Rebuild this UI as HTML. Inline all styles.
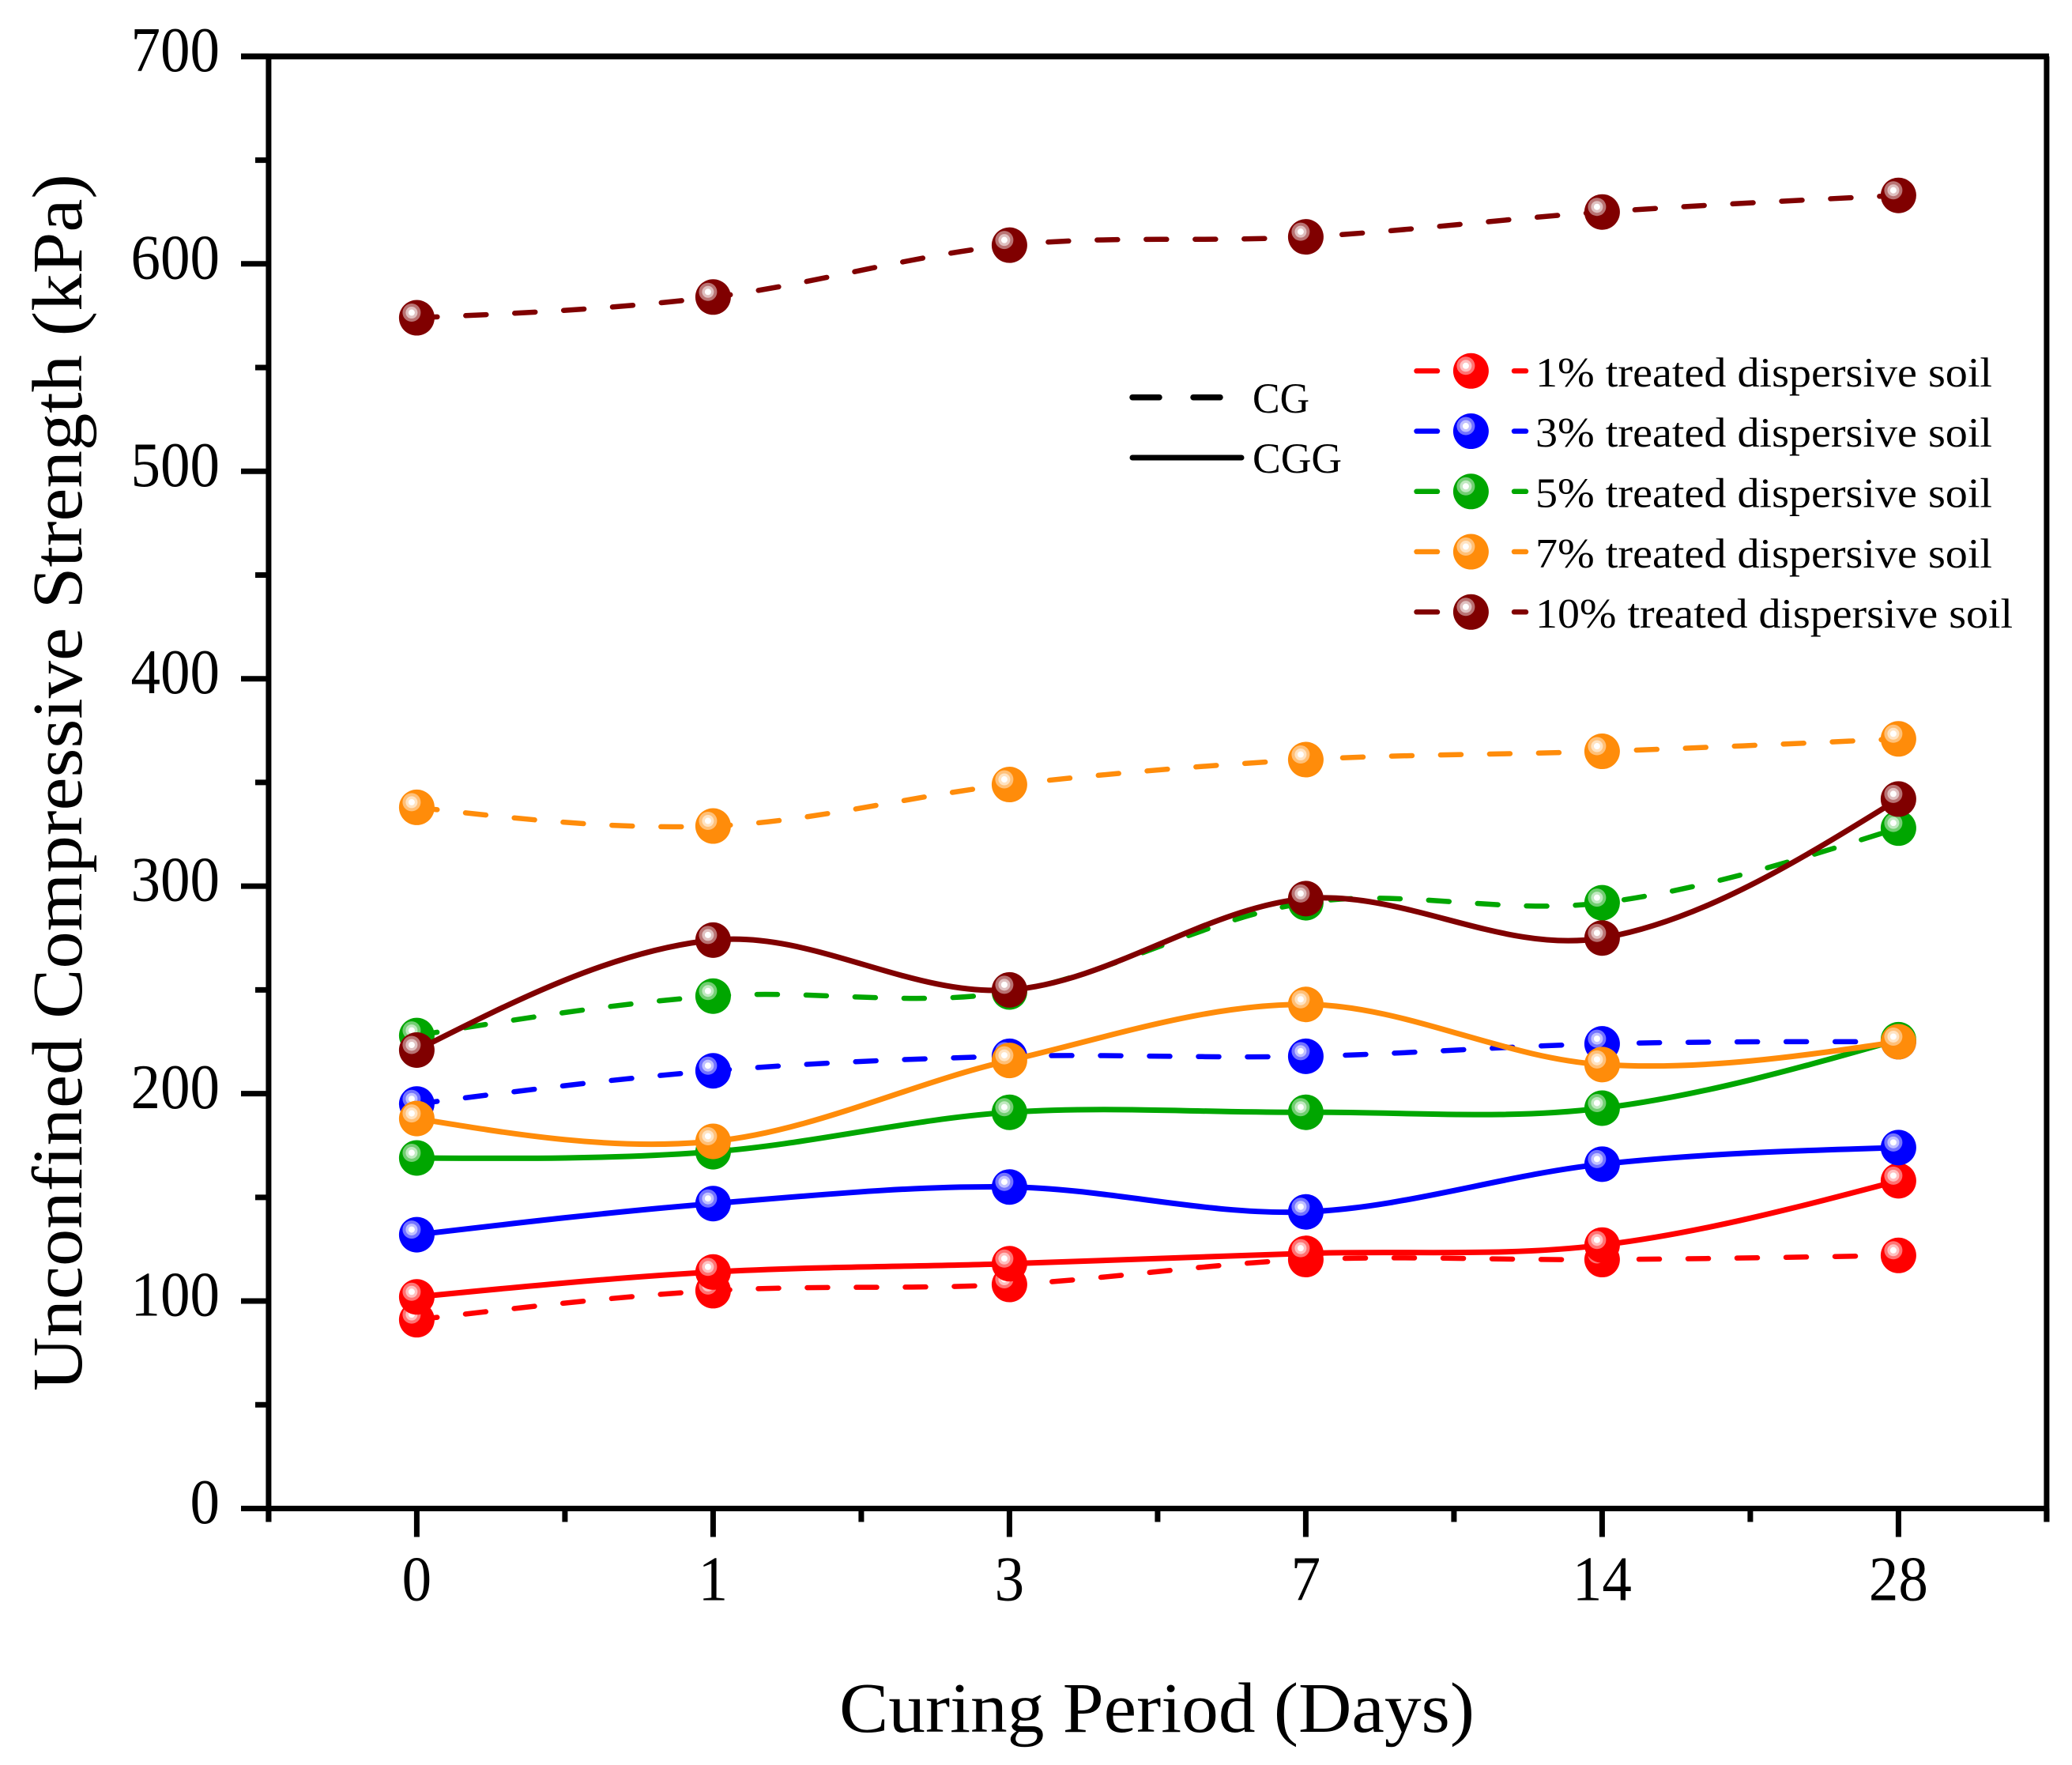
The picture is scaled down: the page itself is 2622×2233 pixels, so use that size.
<!DOCTYPE html>
<html lang="en">
<head>
<meta charset="utf-8">
<title>Unconfined Compressive Strength vs Curing Period</title>
<style>
html,body{margin:0;padding:0;background:#fff;}
svg{display:block;}
text{font-family:"Liberation Serif",serif;fill:#000;}
</style>
</head>
<body>
<svg id="chart" xmlns="http://www.w3.org/2000/svg" width="2622" height="2233" viewBox="0 0 2622 2233">
  <rect x="0" y="0" width="2622" height="2233" fill="#fff"/>
  <g id="axes"></g>
  <g id="series"></g>
  <text transform="translate(103,1760) rotate(-90)" font-size="90" textLength="1540" lengthAdjust="spacingAndGlyphs">Unconfined Compressive Strength (kPa)</text>
  <text x="1062" y="2191" font-size="90" textLength="804" lengthAdjust="spacingAndGlyphs">Curing Period (Days)</text>
  <g id="legend">
    <text x="1585" y="522" font-size="54" textLength="72" lengthAdjust="spacingAndGlyphs">CG</text>
    <text x="1585" y="598" font-size="54" textLength="113" lengthAdjust="spacingAndGlyphs">CGG</text>
    <text x="1943" y="489" font-size="53" textLength="578" lengthAdjust="spacingAndGlyphs">1% treated dispersive soil</text>
    <text x="1943" y="565" font-size="53" textLength="578" lengthAdjust="spacingAndGlyphs">3% treated dispersive soil</text>
    <text x="1943" y="641.5" font-size="53" textLength="578" lengthAdjust="spacingAndGlyphs">5% treated dispersive soil</text>
    <text x="1943" y="718" font-size="53" textLength="578" lengthAdjust="spacingAndGlyphs">7% treated dispersive soil</text>
    <text x="1943" y="794" font-size="53" textLength="604" lengthAdjust="spacingAndGlyphs">10% treated dispersive soil</text>
  </g>
</svg>
<script>
const categories = ["0", "1", "3", "7", "14", "28"];
const yTickLabels = [0, 100, 200, 300, 400, 500, 600, 700];
const yMinorTicks = [50, 150, 250, 350, 450, 550, 650];
const xMinorTicks = [-0.5, 0.5, 1.5, 2.5, 3.5, 4.5, 5.5];
const seriesNames = ["1pct", "3pct", "5pct", "7pct", "10pct"];
const seriesColors = ["#ff0000", "#0000ff", "#00a600", "#ff8c0a", "#800000"];

const cg1 = [91, 105, 108, 120, 120, 122];
const cg3 = [195, 211, 218, 218, 224, 225];
const cg5 = [228, 247, 249, 292, 292, 328];
const cg7 = [338, 329, 349, 361, 365, 371];
const cg10 = [574, 584, 609, 613, 625, 633];

const cgg1 = [102, 114, 118, 123, 127, 158];
const cgg3 = [132, 147, 155, 143, 166, 174];
const cgg5 = [169, 172, 191, 191, 193, 226];
const cgg7 = [188, 177, 216, 243, 214, 225];
const cgg10 = [221, 274, 250, 294, 275, 342];

const cgSeries = [cg1, cg3, cg5, cg7, cg10];
const cggSeries = [cgg1, cgg3, cgg5, cgg7, cgg10];

const SVGNS = "http://www.w3.org/2000/svg";
function xScale(i) { return 527.4 + i * 375; }
function yScale(v) { return 1908.5 - v * 2.6245; }

function mk(parent, tag, attrs, content) {
  const el = document.createElementNS(SVGNS, tag);
  for (const k in attrs) el.setAttribute(k, attrs[k]);
  if (content !== undefined) el.textContent = content;
  parent.appendChild(el);
  return el;
}

/* Catmull-Rom style smooth curve through the values, as Bezier segments */
function splinePath(vals) {
  const n = vals.length;
  const slope = [];
  for (let i = 1; i < n - 1; i++) slope[i] = (vals[i + 1] - vals[i - 1]) / 2;
  slope[0] = 1.5 * (vals[1] - vals[0]) - 0.5 * slope[1];
  slope[n - 1] = 1.5 * (vals[n - 1] - vals[n - 2]) - 0.5 * slope[n - 2];
  let p = "M" + xScale(0).toFixed(2) + " " + yScale(vals[0]).toFixed(2);
  for (let i = 0; i < n - 1; i++) {
    p += " C" + xScale(i + 1 / 3).toFixed(2) + " " + yScale(vals[i] + slope[i] / 3).toFixed(2) +
         " " + xScale(i + 2 / 3).toFixed(2) + " " + yScale(vals[i + 1] - slope[i + 1] / 3).toFixed(2) +
         " " + xScale(i + 1).toFixed(2) + " " + yScale(vals[i + 1]).toFixed(2);
  }
  return p;
}

function drawMarker(parent, cx, cy, color, name) {
  const g = mk(parent, "g", {});
  
  
  mk(g, "circle", { cx: cx, cy: cy, r: 22.5, fill: color });
  mk(g, "circle", { cx: cx - 6.5, cy: cy - 6.5, r: 11.5, fill: "#fff", opacity: 0.45 });
  mk(g, "circle", { cx: cx - 6.5, cy: cy - 6.5, r: 7.5, fill: "#fff", opacity: 0.55 });
  mk(g, "circle", { cx: cx - 6.5, cy: cy - 6.5, r: 4, fill: "#fff" });
}

const axes = document.getElementById("axes");
const seriesLayer = document.getElementById("series");
const legend = document.getElementById("legend");
const plotRight = xScale(5.5);
const plotTop = yScale(700);
const plotBottom = yScale(0);
const stroke = { stroke: "#000", "stroke-width": 7, fill: "none" };

/* frame */
const frameLeft = mk(axes, "line", Object.assign({ x1: xScale(-0.5), y1: plotTop, x2: xScale(-0.5), y2: plotBottom + 17 }, stroke));


const frameBottom = mk(axes, "line", Object.assign({ x1: 305, y1: plotBottom, x2: plotRight, y2: plotBottom }, stroke));


const frameTop = mk(axes, "line", Object.assign({ x1: 305, y1: plotTop, x2: plotRight + 3, y2: plotTop }, stroke, { "stroke-width": 7.5 }));


const frameRight = mk(axes, "line", Object.assign({ x1: plotRight, y1: plotTop, x2: plotRight, y2: plotBottom + 17 }, stroke));



/* y ticks */
yTickLabels.forEach(function (v) {
  const t = mk(axes, "line", Object.assign({ x1: 305, y1: yScale(v), x2: xScale(-0.5), y2: yScale(v) }, stroke));
  
  
  const label = String(v);
  const l = mk(axes, "text", { x: 278, y: yScale(v) + 18.5, "font-size": 81, "text-anchor": "end", textLength: label.length * 37.5, lengthAdjust: "spacingAndGlyphs" }, label);
  
  
});
yMinorTicks.forEach(function (v) {
  const t = mk(axes, "line", Object.assign({ x1: 323, y1: yScale(v), x2: xScale(-0.5), y2: yScale(v) }, stroke));
  
  
});

/* x ticks */
categories.forEach(function (c, i) {
  const t = mk(axes, "line", Object.assign({ x1: xScale(i), y1: plotBottom, x2: xScale(i), y2: plotBottom + 36 }, stroke));
  
  
  const l = mk(axes, "text", { x: xScale(i), y: 2024.5, "font-size": 81, "text-anchor": "middle", textLength: c.length * 37.5, lengthAdjust: "spacingAndGlyphs" }, c);
  
  
});
xMinorTicks.forEach(function (i) {
  const t = mk(axes, "line", Object.assign({ x1: xScale(i), y1: plotBottom, x2: xScale(i), y2: plotBottom + 17 }, stroke));
  
  
});

/* series: dashed CG first, solid CGG on top */
function drawSeries(group, dashed, prefix) {
  group.forEach(function (vals, s) {
    const attrs = { d: splinePath(vals), fill: "none", stroke: seriesColors[s], "stroke-width": dashed ? 6.5 : 7, "stroke-linecap": dashed ? "round" : "butt" };
    if (dashed) attrs["stroke-dasharray"] = "26 36";
    const path = mk(seriesLayer, "path", attrs);
    
    
  });
}
function drawPoints(group, prefix) {
  group.forEach(function (vals, s) {
    vals.forEach(function (v, i) {
      drawMarker(seriesLayer, xScale(i), yScale(v), seriesColors[s], prefix + '-point-' + seriesNames[s]);
    });
  });
}
drawSeries(cgSeries, true, 'cg');
drawPoints(cgSeries, 'cg');
drawSeries(cggSeries, false, 'cgg');
drawPoints(cggSeries, 'cgg');

/* legend marks */
const cgKeyA = mk(legend, "line", { x1: 1433, y1: 502.7, x2: 1467, y2: 502.7, stroke: "#000", "stroke-width": 7.5, "stroke-linecap": "round" });


const cgKeyB = mk(legend, "line", { x1: 1510, y1: 502.7, x2: 1544, y2: 502.7, stroke: "#000", "stroke-width": 7.5, "stroke-linecap": "round" });


const cggKey = mk(legend, "line", { x1: 1433, y1: 579, x2: 1571, y2: 579, stroke: "#000", "stroke-width": 7, "stroke-linecap": "round" });



seriesNames.forEach(function (name, s) {
  const y = 469.3 + s * 76.25;
  const a = mk(legend, "line", { x1: 1792.5, y1: y, x2: 1819, y2: y, stroke: seriesColors[s], "stroke-width": 6.5, "stroke-linecap": "round" });
  
  
  const b = mk(legend, "line", { x1: 1916, y1: y, x2: 1931, y2: y, stroke: seriesColors[s], "stroke-width": 6.5, "stroke-linecap": "round" });
  
  
  drawMarker(legend, 1861.4, y, seriesColors[s], 'legend-marker-' + name);
});
</script>
</body>
</html>
